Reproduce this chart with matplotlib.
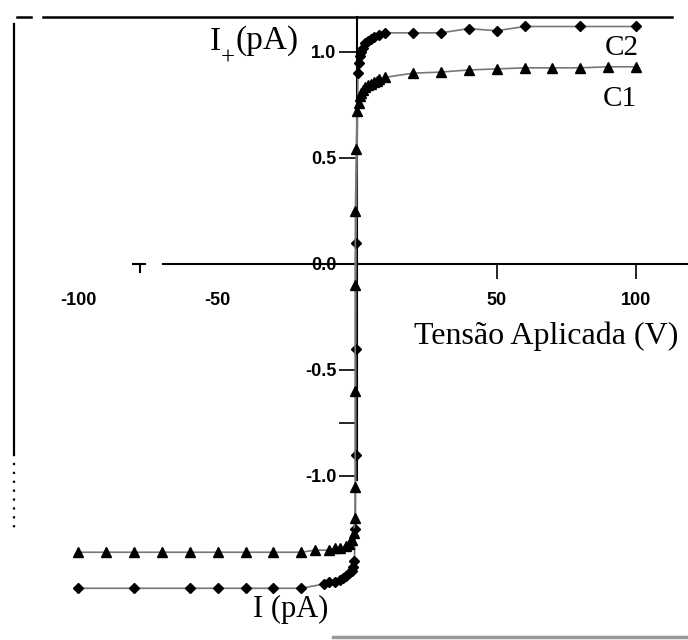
import matplotlib
matplotlib.use("Agg")
import matplotlib.pyplot as plt

plt.rcParams['axes.unicode_minus'] = False

# C1 (triangles)
v_c1 = [-100, -90, -80, -70, -60, -50, -40, -30, -20, -15, -10, -8, -6, -4, -3, -2, -1.2,
        -0.8, -0.7, -0.7, -0.7, -0.6, -0.3, 0.0, 0.5, 1, 1.5, 2, 3, 4, 5, 6, 7, 8, 10,
        20, 30, 40, 50, 60, 70, 80, 90, 100]
i_c1 = [-1.36, -1.36, -1.36, -1.36, -1.36, -1.36, -1.36, -1.36, -1.36, -1.35, -1.35, -1.34,
        -1.34, -1.33, -1.32, -1.30, -1.27, -1.20, -1.05, -0.6, -0.1, 0.25, 0.54, 0.72, 0.76,
        0.79, 0.805, 0.82, 0.835, 0.845, 0.85, 0.86, 0.865, 0.87, 0.88,
        0.90, 0.905, 0.915, 0.92, 0.925, 0.925, 0.925, 0.93, 0.93]

# C2 (diamonds)
v_c2 = [-100, -80, -60, -50, -40, -30, -20, -12, -10, -8, -6, -5, -4, -3, -2, -1.5, -1,
        -0.6, -0.5, -0.5, -0.4, 0.3, 0.7, 1, 1.5, 2, 3, 4, 5, 6, 8, 10,
        20, 30, 40, 50, 60, 80, 100]
i_c2 = [-1.53, -1.53, -1.53, -1.53, -1.53, -1.53, -1.53, -1.51, -1.50, -1.50, -1.49, -1.48,
        -1.47, -1.46, -1.45, -1.43, -1.40, -1.25, -0.9, -0.4, 0.1, 0.9, 0.95, 0.98, 1.0,
        1.02, 1.04, 1.05, 1.06, 1.07, 1.08, 1.09,
        1.09, 1.09, 1.11, 1.10, 1.12, 1.12, 1.12]

xtick_vals = [-100, -50, 50, 100]
xtick_labels = ['-100', '-50', '50', '100']
ytick_vals = [-1.0, -0.5, 0.0, 0.5, 1.0]
ytick_labels = ['-1.0', '-0.5', '0.0', '0.5', '1.0']

fig = plt.figure(figsize=(6.88, 6.4), dpi=100)
ax = fig.add_axes([0, 0, 1, 1])
ax.set_xlim(-128, 118.6)
ax.set_ylim(-1.774, 1.245)

ax.plot(v_c2, i_c2, color='#777777', lw=1.2, marker='D', ms=5,
        mfc='black', mec='black', zorder=3)
ax.plot(v_c1, i_c1, color='#777777', lw=1.2, marker='^', ms=6.5,
        mfc='black', mec='black', zorder=3)

# axes through the origin
for s in ['top', 'right']:
    ax.spines[s].set_visible(False)
ax.spines['left'].set_position(('data', 0))
ax.spines['bottom'].set_position(('data', 0))
ax.spines['left'].set_bounds(-1.02, 1.165)
ax.spines['bottom'].set_bounds(-69.5, 118.6)
ax.spines['left'].set_linewidth(1.5)
ax.spines['bottom'].set_linewidth(1.5)

ax.set_xticks(xtick_vals)
ax.set_xticklabels(xtick_labels)
ax.set_yticks(ytick_vals)
ax.set_yticklabels(ytick_labels)
ax.set_yticks([-0.75], minor=True)
ax.tick_params(axis='y', which='both', direction='out', length=13, width=1.2, pad=2)
ax.tick_params(axis='x', direction='out', length=11, width=1.2, pad=9)
for t in ax.xaxis.get_major_ticks()[:2]:
    t.tick1line.set_visible(False)
for lab in ax.get_xticklabels() + ax.get_yticklabels():
    lab.set_family('Liberation Sans')
    lab.set_fontsize(13)
    lab.set_fontweight('bold')

# stray tick left of the x axis
ax.plot([-80.3, -76.0], [0, 0], color='black', lw=1.5)
ax.plot([-77.8, -77.8], [0, -0.04], color='black', lw=1.5)

# frame pieces of the scanned figure
ax.plot([0.062, 0.9767], [0.9734, 0.9734], color='black', lw=1.8, transform=ax.transAxes)
ax.plot([0.025, 0.045], [0.9734, 0.9734], color='black', lw=1.8, transform=ax.transAxes)
ax.plot([0.021, 0.021], [0.962, 0.29], color='black', lw=1.6, transform=ax.transAxes)
ax.plot([0.021, 0.021], [0.29, 0.165], color='black', lw=1.6, ls=(0, (1, 3)),
        transform=ax.transAxes)
ax.plot([0.484, 1.0], [0.004, 0.004], color='#999999', lw=2.5, transform=ax.transAxes)

serif = 'Liberation Serif'
ax.text(0.3125, 0.922, 'I', family=serif, fontsize=24, ha='center', va='baseline',
        transform=ax.transAxes)
ax.text(0.3307, 0.908, '+', family=serif, fontsize=18, ha='center', va='center',
        transform=ax.transAxes)
ax.text(0.3416, 0.937, '(pA)', family=serif, fontsize=24, ha='left', va='center',
        transform=ax.transAxes)
ax.text(0.904, 0.925, 'C2', family=serif, fontsize=21, ha='center', va='center',
        transform=ax.transAxes)
ax.text(0.901, 0.845, 'C1', family=serif, fontsize=21, ha='center', va='center',
        transform=ax.transAxes)
ax.text(0.7936, 0.475, 'Tensão Aplicada (V)', family=serif, fontsize=23, ha='center',
        va='center', transform=ax.transAxes)
ax.text(0.423, 0.047, 'I (pA)', family=serif, fontsize=22, ha='center', va='center',
        transform=ax.transAxes)

fig.savefig('out.png', dpi=100)
